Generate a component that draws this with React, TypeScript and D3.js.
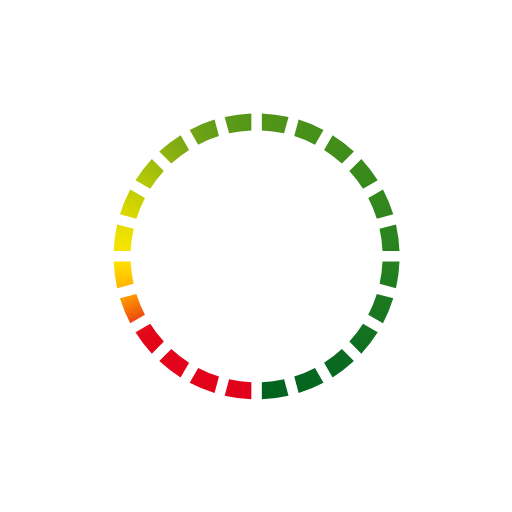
import { useEffect, useRef } from 'react';
import * as d3 from 'd3';

const SIZE = 512;
const CENTER = { x: 256.6, y: 256.3 };
const OUTER = 143;
const INNER = 126;
const GAP_PX = 10.5;

// 24 equal segments, clockwise from the bottom (180°)
const SEGMENT_VALUES = d3.range(24).map(() => 1);
const START_ANGLE = 180;

// colour stops along the ring, angle in degrees (d3 convention, 0 = top)
const STOP_ANGLES = [180, 236, 242, 253, 257, 268, 277, 292, 307, 322, 337, 352, 367, 450, 500, 540];
const STOP_COLORS = [
  '#e2001a', '#e3051a', '#ee4a10', '#ff9c00', '#ffb400', '#ffe400', '#f0e200',
  '#d2d400', '#aac40a', '#86ae12', '#6aa016', '#589818', '#4f9418', '#26821f', '#0b6a20', '#00611f',
];

export default function App() {
  const svgRef = useRef<SVGSVGElement>(null);

  useEffect(() => {
    if (!svgRef.current) return;
    const svg = d3.select(svgRef.current);
    svg.selectAll('*').remove();

    const color = d3.scaleLinear<string>()
      .domain(STOP_ANGLES)
      .range(STOP_COLORS)
      .interpolate(d3.interpolateRgb);

    const rad = (deg: number) => (deg * Math.PI) / 180;
    const pie = d3.pie<number>()
      .sort(null)
      .value(d => d)
      .startAngle(rad(START_ANGLE))
      .endAngle(rad(START_ANGLE + 360));

    const padR = (OUTER + INNER) / 2;
    const arc = d3.arc<d3.PieArcDatum<number>>()
      .innerRadius(INNER)
      .outerRadius(OUTER)
      .padRadius(padR)
      .padAngle(GAP_PX / padR);

    const defs = svg.append('defs');
    const g = svg.append('g').attr('transform', `translate(${CENTER.x},${CENTER.y})`);

    const point = (a: number) => [padR * Math.sin(a), -padR * Math.cos(a)];

    pie(SEGMENT_VALUES).forEach((d, i) => {
      const [x1, y1] = point(d.startAngle);
      const [x2, y2] = point(d.endAngle);
      const id = `seg-grad-${i}`;
      const grad = defs.append('linearGradient')
        .attr('id', id)
        .attr('gradientUnits', 'userSpaceOnUse')
        .attr('x1', x1).attr('y1', y1)
        .attr('x2', x2).attr('y2', y2);
      const a0 = (d.startAngle * 180) / Math.PI;
      const a1 = (d.endAngle * 180) / Math.PI;
      d3.range(0, 1.0001, 0.25).forEach(t => {
        grad.append('stop')
          .attr('offset', t)
          .attr('stop-color', color(a0 + (a1 - a0) * t));
      });
      g.append('path')
        .attr('d', arc(d) as string)
        .attr('fill', `url(#${id})`);
    });
  }, []);

  return (
    <svg
      ref={svgRef}
      width={SIZE}
      height={SIZE}
      style={{ position: 'absolute', left: 0, top: 0, display: 'block', background: '#fff' }}
    />
  );
}
